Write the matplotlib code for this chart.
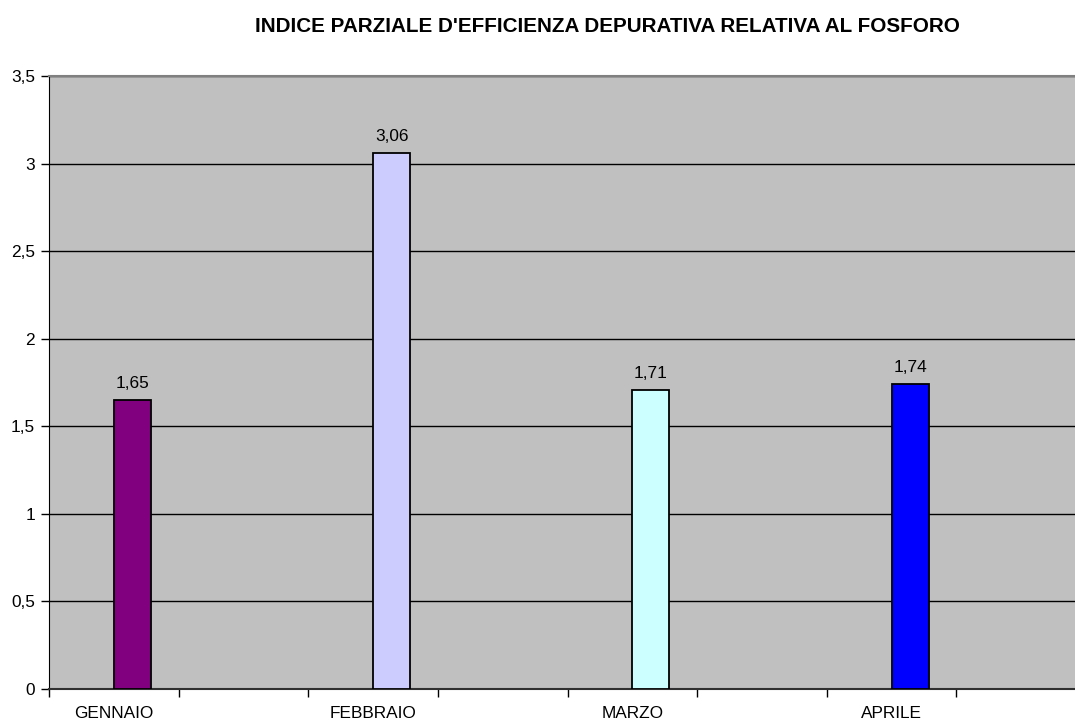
import matplotlib.pyplot as plt
import numpy as np

plt.rcParams['font.family'] = ['Liberation Sans', 'DejaVu Sans']

mesi = ['GENNAIO', 'FEBBRAIO', 'MARZO', 'APRILE']
valori = [1.65, 3.06, 1.71, 1.74]
colori = ['#800080', '#CCCCFF', '#CCFFFF', '#0000FF']
y_ticks = [0, 0.5, 1, 1.5, 2, 2.5, 3, 3.5]

fig = plt.figure(figsize=(10.75, 7.2), dpi=100)
# the plot area runs a little past the right edge, like the original
ax = fig.add_axes([49 / 1075, 31 / 720, 1037 / 1075, 613 / 720])
ax.set_facecolor('#C0C0C0')

# every month sits in its own slot followed by an empty one
pos = np.arange(len(mesi)) * 2
larg = 0.285
bars = ax.bar(pos, valori, width=larg, align='edge', color=colori,
              edgecolor='black', linewidth=1.3, zorder=3)
for b, v in zip(bars, valori):
    ax.text(b.get_x() + b.get_width() / 2, v + 0.05, f"{v:.2f}".replace('.', ','),
            ha='center', va='bottom', fontsize=12.4)

ax.set_xlim(-0.5, 7.5)
ax.set_ylim(0, 3.5)
ax.set_xticks(pos)
ax.set_xticklabels(mesi, fontsize=12.4)
ax.set_xticks(np.arange(-0.5, 8, 1), minor=True)
ax.tick_params(axis='x', which='major', length=0, pad=12)
ax.tick_params(axis='x', which='minor', length=6, direction='out', width=1)
ax.set_yticks(y_ticks)
ax.set_yticklabels([f"{t:g}".replace('.', ',') for t in y_ticks], fontsize=12.4)
ax.tick_params(axis='y', length=6, width=1, direction='out', pad=4)
ax.grid(axis='y', color='black', linewidth=1, zorder=1)

ax.spines['top'].set_color('#808080')
ax.spines['top'].set_linewidth(1.5)
ax.spines['right'].set_visible(False)
ax.spines['left'].set_color('black')
ax.spines['bottom'].set_color('#303030')
ax.spines['bottom'].set_linewidth(1.5)

fig.text(607 / 1075, 1 - 27 / 720,
         "INDICE PARZIALE D'EFFICIENZA DEPURATIVA RELATIVA AL FOSFORO",
         ha='center', va='center', fontsize=14.9, fontweight='bold')

fig.savefig('out.png', dpi=100)
